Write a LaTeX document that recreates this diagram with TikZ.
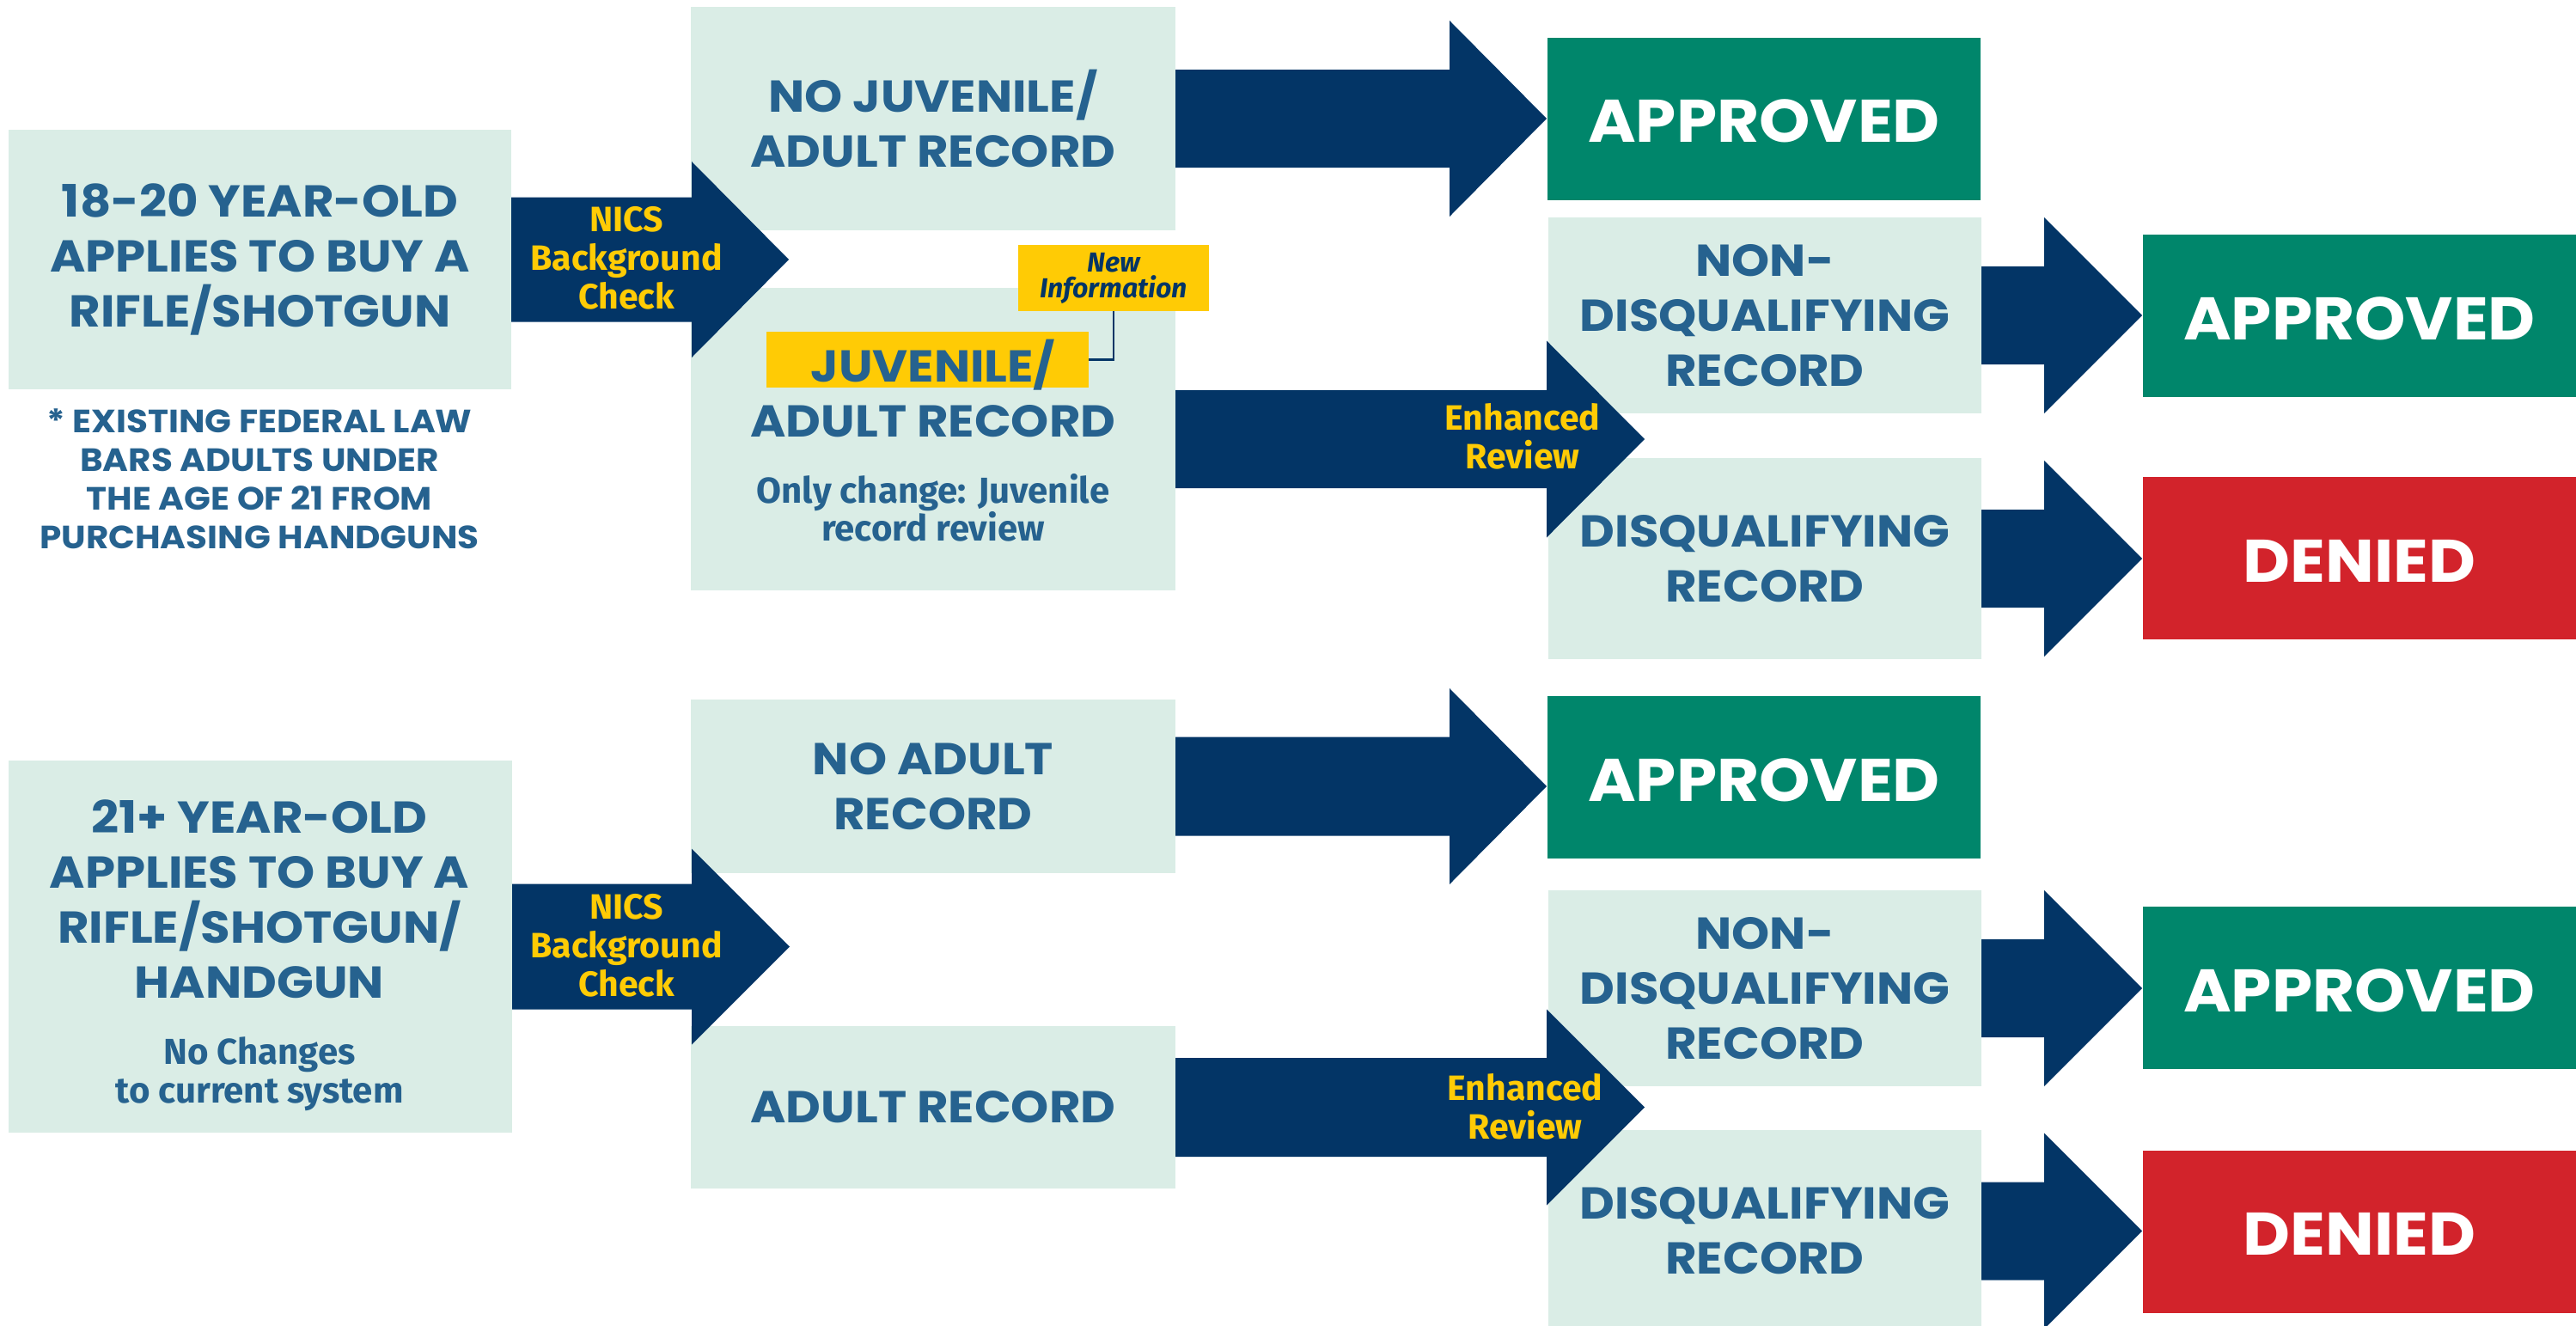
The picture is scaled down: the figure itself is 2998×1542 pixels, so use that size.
\documentclass[tikz,border=0pt]{standalone}
\usepackage{fontspec}
\setmainfont{Poppins}[FakeStretch=1.08]
\newfontfamily\condfont{Fira Sans}
\usetikzlibrary{calc}
\definecolor{mint}{RGB}{218,237,230}
\definecolor{tblue}{RGB}{38,98,143}
\definecolor{navy}{RGB}{3,53,102}
\definecolor{gold}{RGB}{255,203,5}
\definecolor{okgreen}{RGB}{0,134,107}
\definecolor{nored}{RGB}{210,35,43}
\tikzset{
  panel/.style={fill=mint, inner sep=0pt, outer sep=0pt},
  heading/.style={text=tblue, align=center, inner sep=0pt, font=\fontsize{52}{64}\selectfont\bfseries},
  headpanel/.style={panel, heading},
  result/.style={inner sep=0pt, outer sep=0pt, text=white, minimum width=504pt, minimum height=189pt, text height=55pt, text depth=0pt, font=\fontsize{70}{84}\selectfont\bfseries},
  approved/.style={result, fill=okgreen},
  denied/.style={result, fill=nored},
  note/.style={text=tblue, align=center, inner sep=0pt, font=\fontsize{37.5}{45}\selectfont\bfseries},
  small/.style={text=tblue, align=center, inner sep=0pt, font=\condfont\fontsize{42}{44}\selectfont\bfseries},
  arrowlabel/.style={text=gold, align=center, inner sep=0pt, font=\condfont\fontsize{41}{45}\selectfont\bfseries},
  newinfo/.style={fill=gold, text=navy, align=center, inner sep=0pt, minimum width=222pt, minimum height=77pt, font=\condfont\fontsize{32}{30}\selectfont\bfseries\itshape},
  highlight/.style={fill=gold, inner sep=0pt, minimum width=375pt, minimum height=65pt},
  link/.style={draw=navy, line width=2.5pt}
}
% #1 source node, #2 shaft length, #3 head length, #4 half shaft width, #5 half head width
\newcommand\blockarrow[5]{%
  \fill[navy] ($(#1.east)+(0,-#4)$) -- ++(#2,0) -- ++(0,{-(#5-#4)}) -- ++(#3,#5)
    -- ++(-#3,#5) -- ++(0,{-(#5-#4)}) -- ++(-#2,0) -- cycle;}
\begin{document}
\begin{tikzpicture}[x=1pt,y=-1pt]
\useasboundingbox (0,0) rectangle (2998,1542);
\clip (0,0) rectangle (2998,1542);
\fill[white] (0,0) rectangle (2998,1542);

% ---------- top row ----------
\node[headpanel, minimum width=585pt, minimum height=302pt] (A1) at (302.5,302)
  {18-20 YEAR-OLD\\APPLIES TO BUY A\\RIFLE/SHOTGUN};
\node[note] (foot) at (302,557.5)
  {* EXISTING FEDERAL LAW\\BARS ADULTS UNDER\\THE AGE OF 21 FROM\\PURCHASING HANDGUNS};

\node[headpanel, minimum width=564pt, minimum height=260pt] (B1) at (1086,138)
  {NO JUVENILE/\\ADULT RECORD};
\node[panel, minimum width=564pt, minimum height=352pt] (B2) at (1086,511) {};
\node[highlight] (hl) at (1079.5,418.5) {};
\node[heading] (B2t) at (1086,452) {JUVENILE/\\ADULT RECORD};
\node[small] (B2s) at (1086,591) {Only change: Juvenile\\record review};
\node[newinfo] (ni) at (1296,323.5) {New\\Information};
\draw[link] (ni.south) |- (hl.east);

\node[approved] (C1) at (2053,138) {APPROVED};
\node[headpanel, minimum width=504pt, minimum height=228pt] (D1) at (2054,367)
  {NON-\\DISQUALIFYING\\RECORD};
\node[headpanel, minimum width=504pt, minimum height=234pt] (E1) at (2054,650)
  {DISQUALIFYING\\RECORD};
\node[approved] (F1) at (2746,367.5) {APPROVED};
\node[denied] (G1) at (2746,649.5) {DENIED};

% ---------- bottom row ----------
\node[panel, minimum width=586pt, minimum height=433pt] (A2) at (303,1101.5) {};
\node[heading] (A2t) at (302,1046.5) {21+ YEAR-OLD\\APPLIES TO BUY A\\RIFLE/SHOTGUN/\\HANDGUN};
\node[small, font=\condfont\fontsize{42}{45}\selectfont\bfseries] (A2s) at (302,1250) {No Changes\\to current system};

\node[headpanel, minimum width=564pt, minimum height=202pt] (B3) at (1086,915)
  {NO ADULT\\RECORD};
\node[headpanel, minimum width=564pt, minimum height=189pt] (B4) at (1086,1288.5)
  {ADULT RECORD};

\node[approved] (C2) at (2053,904.5) {APPROVED};
\node[headpanel, minimum width=504pt, minimum height=228pt] (D2) at (2054,1150)
  {NON-\\DISQUALIFYING\\RECORD};
\node[headpanel, minimum width=504pt, minimum height=235pt] (E2) at (2054,1432.5)
  {DISQUALIFYING\\RECORD};
\node[approved] (F2) at (2746,1149.5) {APPROVED};
\node[denied] (G2) at (2746,1433) {DENIED};

% ---------- arrows ----------
\blockarrow{A1}{210}{113}{72.5}{114}
\blockarrow{A2}{209}{114}{73}{114}
\blockarrow{B1}{319}{113}{57}{114}
\blockarrow{B3}{319}{113}{57.5}{114}
\blockarrow{B2}{432}{114}{57}{114.5}
\blockarrow{B4}{432}{114}{57.5}{114}
\blockarrow{D1}{73}{114}{57}{114}
\blockarrow{E1}{73}{114}{57}{114}
\blockarrow{D2}{73}{114}{57}{114}
\blockarrow{E2}{73}{114}{57}{114}

% ---------- arrow labels ----------
\node[arrowlabel] (nics1) at (729,300) {NICS\\Background\\Check};
\node[arrowlabel] (nics2) at (729,1100.5) {NICS\\Background\\Check};
\node[arrowlabel] (enh1) at (1772,508) {Enhanced\\Review};
\node[arrowlabel] (enh2) at (1775,1287.5) {Enhanced\\Review};
\end{tikzpicture}
\end{document}
